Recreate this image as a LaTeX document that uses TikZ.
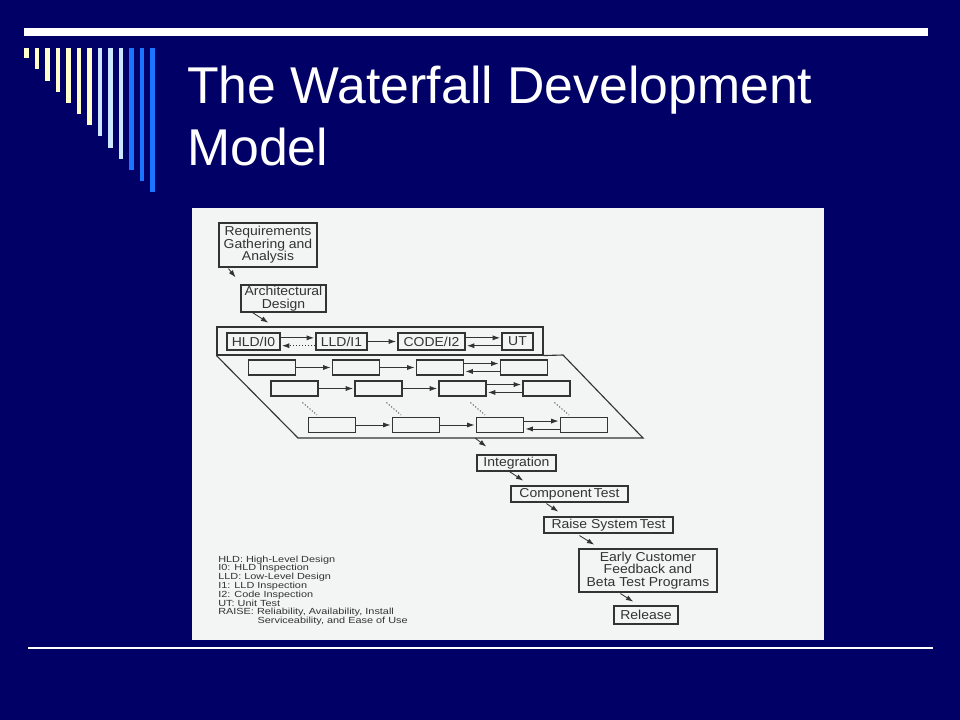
\documentclass[tikz,border=0pt]{standalone}
\usepackage{fontspec}
\setmainfont{Liberation Sans}
\newfontfamily\scanfont[FakeStretch=1.08]{Liberation Sans}
\newfontfamily\keyfont[FakeStretch=1.23]{Liberation Sans}
\usetikzlibrary{
  positioning,
  arrows.meta,
  calc
}
\definecolor{navy}{HTML}{000066}
\definecolor{cream}{HTML}{FFFFCC}
\definecolor{paleblue}{HTML}{CCE8FF}
\definecolor{brightblue}{HTML}{1A75FF}
\definecolor{paper}{HTML}{F3F4F4}
\definecolor{ink}{HTML}{333333}
\newdimen\px \px=0.025cm

\begin{document}
\begin{tikzpicture}[
  x=0.025cm, y=-0.025cm,
  box/.style={draw=ink, line width=0.8pt, inner sep=0pt, align=center, text=ink,
              font=\scanfont\fontsize{9.2}{8.9}\selectfont},
  blank/.style={draw=ink, line width=0.8pt, inner sep=0pt,
                minimum width=47\px, minimum height=15\px},
  arr/.style={-{Latex[length=5.2pt,width=3.6pt]}, ink, line width=0.6pt, shorten >=1pt},
  dots/.style={ink, line width=0.6pt, dash pattern=on 0.8pt off 1.4pt}
]
  % slide background and decoration
  \fill[navy] (0,0) rectangle (960,720);
  \fill[white] (24,28) rectangle (928,36);
  \foreach \i/\c in {0/cream,1/cream,2/cream,3/cream,4/cream,5/cream,6/cream,
                     7/paleblue,8/paleblue,9/paleblue,
                     10/brightblue,11/brightblue,12/brightblue}
    \fill[\c] ({24+10.5*\i},48.3) rectangle ({28.5+10.5*\i},{58.3+11.17*\i});
  \draw[white, line width=1.1pt] (28,648) -- (933,648);

  % title
  \node[anchor=base west, inner sep=0pt, text=white, font=\fontsize{36.8}{44}\selectfont]
    (title) at (187,104) {The Waterfall Development};
  \node[anchor=base west, inner sep=0pt, text=white, font=\fontsize{36.8}{44}\selectfont]
    (titleb) at (187,166) {Model};

  % scanned figure
  \fill[paper] (192,208) rectangle (824,640);

  \node[box, minimum width=98\px, minimum height=44\px] (req) at (268,245)
    {Requirements\\Gathering and\\Analysis};
  \node[box, minimum width=85\px, minimum height=27\px] (arch) at (283.5,298.5)
    {Architectural\\Design};

  \draw[arr] ($(req.south west)+(10,1)$) -- ($(arch.north west)+(-4,-6)$);

  % design, code and unit test phase
  \node[draw=ink, line width=0.8pt, minimum width=326\px, minimum height=28\px] (phase) at (380,341) {};
  \draw[ink, line width=0.8pt] (phase.south west) -- (298,438) -- (643,438) -- (563,355) -- (phase.south east);
  \coordinate (pout) at (475,438);

  \draw[arr] ($(arch.south west)+(12,0)$) -- ($(phase.north west)+(53,-3)$);

  \node[box, minimum width=53\px, minimum height=17\px] (hld) at (253.5,341.5) {HLD/I0};
  \node[box, minimum width=51\px, minimum height=17\px] (lld) at (341.5,341.5) {LLD/I1};
  \node[box, minimum width=67\px, minimum height=17\px] (code) at (431.5,341.5) {CODE/I2};
  \node[box, minimum width=31\px, minimum height=17\px] (ut) at (517.5,341.5) {UT};

  \draw[arr] ([yshift=2.6pt]hld.east) -- ([yshift=2.6pt]lld.west);
  \draw[arr, dots] ([yshift=-3pt]lld.west) -- ([yshift=-3pt]hld.east);
  \draw[arr] (lld) -- (code);
  \draw[arr] ([yshift=2.6pt]code.east) -- ([yshift=2.6pt]ut.west);
  \draw[arr] ([yshift=-3pt]ut.west) -- ([yshift=-3pt]code.east);

  % blank rows
  \foreach \r/\yy/\dx in {1/367.5/0, 2/388.5/22.5, 3/425/60}
    \foreach \c in {1,...,4}
      \node[blank] (r\r-\c) at ({272+84*(\c-1)+\dx},\yy) {};

  \foreach \r in {1,2,3} {
    \draw[arr] (r\r-1) -- (r\r-2);
    \draw[arr] (r\r-2) -- (r\r-3);
    \draw[arr] ([yshift=2.8pt]r\r-3.east) -- ([yshift=2.8pt]r\r-4.west);
    \draw[arr] ([yshift=-2.8pt]r\r-4.west) -- ([yshift=-2.8pt]r\r-3.east);
  }
  \foreach \c in {1,...,4}
    \draw[dots] ($(r2-\c.south)+(8,6)$) -- ($(r3-\c.north)+(-15,-2)$);

  % later phases
  \node[box, minimum width=79\px, minimum height=16\px] (integ) at (516.5,463) {Integration};
  \node[box, minimum width=117\px, minimum height=16\px] (comp) at (569.5,494) {Component\,Test};
  \node[box, minimum width=129\px, minimum height=16\px] (raise) at (608.5,525) {Raise System\,Test};
  \node[box, minimum width=138\px, minimum height=43\px] (early) at (648,570.5)
    {Early Customer\\Feedback and\\Beta Test Programs};
  \node[box, minimum width=64\px, minimum height=18\px] (rel) at (646,615) {Release};

  \draw[arr] (pout) -- ($(integ.north west)+(11,-7)$);
  \draw[arr] ($(integ.south west)+(33,0)$) -- ($(comp.north west)+(14,-4)$);
  \draw[arr] ($(comp.south west)+(36,1)$) -- ($(raise.north west)+(16,-4)$);
  \draw[arr] ($(raise.south west)+(36,2)$) -- ($(early.north west)+(17,-3)$);
  \draw[arr] ($(early.south west)+(42,1)$) -- ($(rel.north west)+(21,-3)$);

  % key
  \node[anchor=north west, align=left, inner sep=0pt, text=ink,
        font=\keyfont\fontsize{6.3}{6.25}\selectfont] (key) at (218,555.5)
    {HLD: High-Level Design\\
     I0: HLD Inspection\\
     LLD: Low-Level Design\\
     I1: LLD Inspection\\
     I2: Code Inspection\\
     UT: Unit Test\\
     RAISE: Reliability, Availability, Install\\
     \hspace*{28pt}Serviceability, and Ease of Use};
\end{tikzpicture}
\end{document}
